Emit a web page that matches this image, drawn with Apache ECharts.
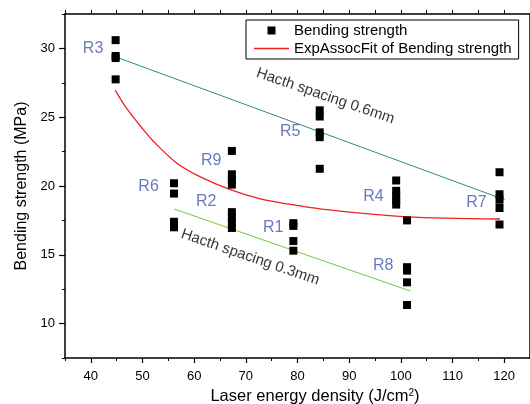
<!DOCTYPE html>
<html>
<head>
<meta charset="utf-8">
<script src="https://cdn.jsdelivr.net/npm/echarts@6/dist/echarts.min.js"></script>
<style>html,body{margin:0;padding:0;background:#fff}#c{width:530px;height:404px}</style>
</head>
<body>
<div id="c"></div>
<script>
// ---- data ----
const densities = [44.8, 56.1, 67.3, 79.2, 84.3, 99.1, 101.2, 119.1];
const strengths = [
  [30.6, 29.45, 29.3, 27.75],
  [20.2, 19.45, 17.4, 17.0],
  [22.55, 20.85, 20.45, 20.1, 18.1, 17.7, 17.3, 16.95],
  [17.3, 17.1, 16.0, 15.3],
  [25.5, 25.05, 23.9, 23.55, 21.25],
  [20.4, 19.65, 19.3, 18.95, 18.65],
  [17.5, 14.1, 13.85, 13.0, 11.35],
  [21.0, 19.4, 19.0, 18.4, 17.2]
];
const fitX = [44.7, 47, 50.2, 52.1, 56.6, 61, 67.0, 72.8, 78, 85.7, 101.2, 119.2];
const fitY = [26.97, 25.6, 24.08, 23.25, 21.67, 20.7, 19.73, 19.06, 18.7, 18.28, 17.75, 17.6];
const line06X = [44.4, 120.1];
const line06Y = [29.44, 19.0];
const line03X = [56.1, 101.9];
const line03Y = [18.33, 12.36];
const sampleNames = ['R3', 'R6', 'R9', 'R2', 'R5', 'R1', 'R4', 'R7', 'R8'];
const sampleLabelX = [40.43, 51.18, 63.3, 62.33, 78.6, 75.3, 94.7, 114.65, 96.6];
const sampleLabelY = [29.95, 19.95, 21.83, 18.86, 23.93, 16.97, 19.22, 18.79, 14.22];
const hatchTexts = ['Hacth spacing 0.6mm', 'Hacth spacing 0.3mm'];
const hatchX = [85.4, 70.85];
const hatchY = [26.53, 14.82];
const xMajor = [40, 50, 60, 70, 80, 90, 100, 110, 120];
const xMinor = [35, 45, 55, 65, 75, 85, 95, 105, 115, 125];
const yMajor = [10, 15, 20, 25, 30];
const yMinor = [7.5, 12.5, 17.5, 22.5, 27.5, 32.5];
const seriesNames = ['Bending strength', 'ExpAssocFit of Bending strength'];
const xName = 'Laser energy density (J/cm';
const yName = 'Bending strength (MPa)';

// ---- build ----
const FONT = 'Liberation Sans, Arial, sans-serif';
const pts = [];
densities.forEach((x, i) => strengths[i].forEach(y => pts.push([x, y])));
const zip = (a, b) => a.map((v, i) => [v, b[i]]);

const axLine = {show: true, lineStyle: {color: '#000', width: 1.5}};
const noSplit = {show: false};
const xRange = {type: 'value', min: 35, max: 125};
const yRange = {type: 'value', min: 7.5, max: 32.5};

const chart = echarts.init(document.getElementById('c'), null, {renderer: 'canvas'});
chart.setOption({
  animation: false,
  backgroundColor: '#fff',
  textStyle: {fontFamily: FONT},
  grid: [
    {left: 65, right: 0, top: 14, bottom: 46, containLabel: false, outerBoundsMode: 'none'},
    {left: 65, right: 0, top: 14, bottom: 46, containLabel: false, outerBoundsMode: 'none'}
  ],
  legend: {
    orient: 'vertical', left: 246, top: 20,
    backgroundColor: '#fff', borderColor: '#000', borderWidth: 1,
    padding: [3, 7, 3, 8], itemGap: 3, itemWidth: 35, itemHeight: 8, itemTextGap: 5,
    textStyle: {fontSize: 15, color: '#000', fontFamily: FONT},
    data: [
      {name: seriesNames[0], icon: 'path://M0,0L10,0L10,10L0,10Z', itemStyle: {color: '#000', opacity: 1}},
      {name: seriesNames[1], icon: 'path://M0,0L35,0L35,1.3L0,1.3Z', itemStyle: {color: '#ee2020'}}
    ]
  },
  xAxis: [
    Object.assign({gridIndex: 0, position: 'bottom', axisLine: axLine, splitLine: noSplit,
      axisTick: {customValues: xMajor, length: 5, lineStyle: {color: '#000', width: 1.2}},
      axisLabel: {customValues: xMajor, fontSize: 13, color: '#000', margin: 12, fontFamily: FONT},
      name: '{a|' + xName + '}{s|2}{a|)}', nameLocation: 'middle', nameGap: 29,
      nameTextStyle: {color: '#000', fontSize: 16.5, fontFamily: FONT, padding: [0, 0, 0, 35],
        rich: {a: {fontSize: 16.5, color: '#000', fontFamily: FONT},
               s: {fontSize: 10, color: '#000', fontFamily: FONT, verticalAlign: 'top', padding: [0, 0, 8, 0]}}}}, xRange),
    Object.assign({gridIndex: 0, position: 'top', axisLine: axLine, splitLine: noSplit,
      axisTick: {customValues: xMinor.concat(xMajor), length: 4, lineStyle: {color: '#000', width: 1}},
      axisLabel: {show: false}}, xRange),
    Object.assign({gridIndex: 1, position: 'bottom', axisLine: {show: false}, splitLine: noSplit,
      axisTick: {customValues: xMinor, length: 3, lineStyle: {color: '#000', width: 1}},
      axisLabel: {show: false}}, xRange)
  ],
  yAxis: [
    Object.assign({gridIndex: 0, position: 'left', axisLine: axLine, splitLine: noSplit,
      axisTick: {customValues: yMajor, length: 6, lineStyle: {color: '#000', width: 1.2}},
      axisLabel: {customValues: yMajor, fontSize: 13, color: '#000', margin: 10, fontFamily: FONT},
      name: yName, nameLocation: 'middle', nameGap: 30,
      nameTextStyle: {color: '#000', fontSize: 16, fontFamily: FONT}}, yRange),
    Object.assign({gridIndex: 0, position: 'right', axisLine: axLine, splitLine: noSplit,
      axisTick: {show: false}, axisLabel: {show: false}}, yRange),
    Object.assign({gridIndex: 1, position: 'left', axisLine: {show: false}, splitLine: noSplit,
      axisTick: {customValues: yMinor, length: 3, lineStyle: {color: '#000', width: 1}},
      axisLabel: {show: false}}, yRange)
  ],
  series: [
    {name: 'hatch06', type: 'line', xAxisIndex: 0, yAxisIndex: 0, data: zip(line06X, line06Y),
      symbol: 'none', lineStyle: {color: '#2a8c8c', width: 1}, silent: true, z: 2},
    {name: 'hatch03', type: 'line', xAxisIndex: 0, yAxisIndex: 0, data: zip(line03X, line03Y),
      symbol: 'none', lineStyle: {color: '#6ccc3a', width: 1}, silent: true, z: 2},
    {name: seriesNames[1], type: 'line', xAxisIndex: 0, yAxisIndex: 0, data: zip(fitX, fitY),
      symbol: 'none', smooth: 0.3, lineStyle: {color: '#ee2020', width: 1.3}, itemStyle: {color: '#ee2020'}, z: 3},
    {name: seriesNames[0], type: 'scatter', xAxisIndex: 0, yAxisIndex: 0, data: pts,
      symbol: 'rect', symbolSize: 8, itemStyle: {color: '#000', opacity: 1}, z: 4},
    {name: 'samples', type: 'scatter', xAxisIndex: 0, yAxisIndex: 0, symbolSize: 0, silent: true,
      data: sampleNames.map((n, i) => ({name: n, value: [sampleLabelX[i], sampleLabelY[i]]})),
      label: {show: true, position: 'inside', formatter: '{b}', color: '#4456b0', fontSize: 16, fontFamily: FONT}, z: 5},
    {name: 'hatchText', type: 'scatter', xAxisIndex: 0, yAxisIndex: 0, symbolSize: 0, silent: true,
      data: hatchTexts.map((n, i) => ({name: n, value: [hatchX[i], hatchY[i]]})),
      label: {show: true, position: 'inside', formatter: '{b}', rotate: -19, color: '#000', fontSize: 15, fontFamily: FONT}, z: 5}
  ]
});
</script>
</body>
</html>
